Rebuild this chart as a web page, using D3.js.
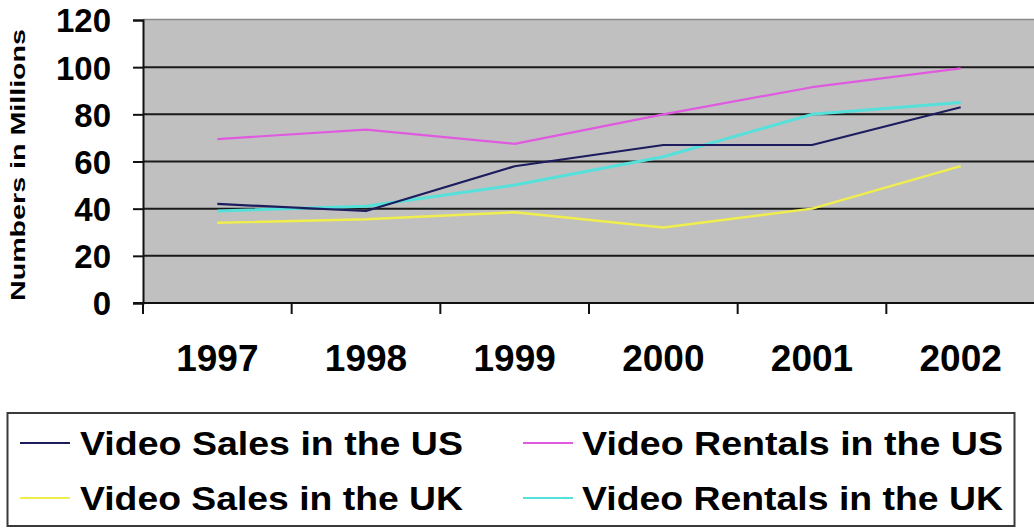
<!DOCTYPE html>
<html>
<head>
<meta charset="utf-8">
<script src="https://cdn.jsdelivr.net/npm/d3@7"></script>
<style>
  html, body { margin: 0; padding: 0; background: #ffffff; }
  svg { display: block; }
  text { font-family: "Liberation Sans", Arial, sans-serif; font-weight: bold; fill: #000; }
</style>
</head>
<body>
<svg id="chart" width="1034" height="529"></svg>
<script>
// ---- data ----
const years = ["1997", "1998", "1999", "2000", "2001", "2002"];
const yTicks = [0, 20, 40, 60, 80, 100, 120];
const salesUS = [42, 39, 58, 67, 67, 83];
const rentalsUS = [69.5, 73.5, 67.5, 80, 91.5, 99.5];
const salesUK = [34, 35.5, 38.5, 32, 40, 58];
const rentalsUK = [39, 41, 50, 62, 80, 85];
const seriesNames = ["Video Sales in the US", "Video Rentals in the US", "Video Sales in the UK", "Video Rentals in the UK"];
const yTitle = "Numbers in Millions";

// ---- styles ----
const colors = ["#1c1c5e", "#e05ae0", "#f0ee4c", "#55e0da"];
const widths = [2.2, 2.2, 2.4, 3];

const svg = d3.select("#chart");
const plot = { left: 143, right: 1035, top: 20, bottom: 303 };

const x = d3.scaleBand().domain(years).range([plot.left, plot.right]).padding(0);
const y = d3.scaleLinear().domain([0, 120]).range([plot.bottom, plot.top]);
const cx = d => x(d) + x.bandwidth() / 2;

// plot background
svg.append("rect")
  .attr("x", plot.left).attr("y", plot.top)
  .attr("width", plot.right - plot.left).attr("height", plot.bottom - plot.top)
  .attr("fill", "#c0c0c0");
// top border
svg.append("line")
  .attr("x1", plot.left).attr("x2", plot.right)
  .attr("y1", y(120) - 0.5).attr("y2", y(120) - 0.5)
  .attr("stroke", "#8a8a8a").attr("stroke-width", 1.5);

// gridlines
svg.append("g").selectAll("line")
  .data(yTicks.filter(v => v > 0 && v < 120))
  .join("line")
  .attr("x1", plot.left).attr("x2", plot.right)
  .attr("y1", d => y(d)).attr("y2", d => y(d))
  .attr("stroke", "#1a1a1a").attr("stroke-width", 2);

// series lines
const allSeries = [salesUS, rentalsUS, salesUK, rentalsUK];
const line = d3.line().x((d, i) => cx(years[i])).y(d => y(d)).curve(d3.curveLinear);
const drawOrder = [2, 3, 0, 1];
drawOrder.forEach(k => {
  svg.append("path")
    .datum(allSeries[k])
    .attr("d", line)
    .attr("fill", "none")
    .attr("stroke", colors[k])
    .attr("stroke-width", widths[k])
    .attr("stroke-linejoin", "round");
});

// y axis
const yAxis = d3.axisLeft(y).tickValues(yTicks).tickSize(10).tickPadding(22).tickFormat(d3.format("d"));
const gy = svg.append("g").attr("transform", `translate(${plot.left},0)`).call(yAxis);
gy.select(".domain").attr("stroke", "#111").attr("stroke-width", 2);
gy.selectAll(".tick line").attr("stroke", "#111").attr("stroke-width", 2);
gy.selectAll(".tick text")
  .style("font-size", "33px").style("font-family", "'Liberation Sans', Arial, sans-serif")
  .style("font-weight", "bold").attr("fill", "#000").attr("dy", "0.36em");

// x axis: labels at band centres
const xAxis = d3.axisBottom(x).tickSize(0).tickPadding(42);
const gx = svg.append("g").attr("transform", `translate(0,${plot.bottom})`).call(xAxis);
gx.select(".domain").remove();
gx.selectAll(".tick text")
  .style("font-size", "37px").style("font-family", "'Liberation Sans', Arial, sans-serif")
  .style("font-weight", "bold").attr("fill", "#000");
// axis line + tick marks at band boundaries
svg.append("line")
  .attr("x1", plot.left - 10).attr("x2", plot.right)
  .attr("y1", plot.bottom).attr("y2", plot.bottom)
  .attr("stroke", "#111").attr("stroke-width", 2);
const bounds = years.map(d => x(d)).concat([x.range()[1]]);
svg.append("g").selectAll("line")
  .data(bounds)
  .join("line")
  .attr("x1", d => d).attr("x2", d => d)
  .attr("y1", plot.bottom).attr("y2", plot.bottom + 11)
  .attr("stroke", "#111").attr("stroke-width", 2);

// y title
svg.append("text")
  .attr("transform", "translate(25,165) rotate(-90)")
  .attr("text-anchor", "middle")
  .attr("textLength", 272).attr("lengthAdjust", "spacingAndGlyphs")
  .style("font-size", "21px")
  .text(yTitle);

// legend
const lg = svg.append("g");
lg.append("rect")
  .attr("x", 7.5).attr("y", 413).attr("width", 1007).attr("height", 113)
  .attr("fill", "#fff").attr("stroke", "#3a3a3a").attr("stroke-width", 2);
const cols = [{ lx: 20, tx: 80, end: 463 }, { lx: 523, tx: 582, end: 1003 }];
const rows = [443, 498];
seriesNames.forEach((name, k) => {
  const c = cols[k % 2], r = rows[Math.floor(k / 2)];
  lg.append("line")
    .attr("x1", c.lx).attr("x2", c.lx + 50)
    .attr("y1", r).attr("y2", r)
    .attr("stroke", colors[k]).attr("stroke-width", 2.2);
  lg.append("text")
    .attr("x", c.tx).attr("y", r + 12)
    .attr("textLength", c.end - c.tx).attr("lengthAdjust", "spacingAndGlyphs")
    .style("font-size", "33px")
    .text(name);
});
</script>
</body>
</html>
